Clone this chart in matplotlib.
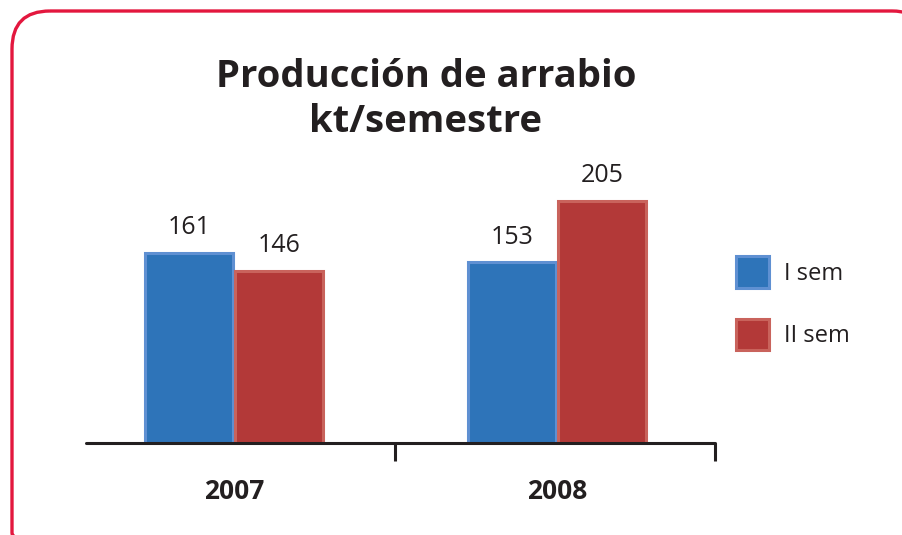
import matplotlib
matplotlib.use("Agg")
import matplotlib.pyplot as plt
from matplotlib.patches import FancyBboxPatch, Patch

plt.rcParams['font.family'] = ['Open Sans', 'DejaVu Sans']

# data
years = ['2007', '2008']
sem1 = [161, 153]
sem2 = [146, 205]
series_names = ['I sem', 'II sem']

blue = '#2E74B9'
red = '#B33938'
blue_edge = '#5F90D2'
red_edge = '#C9635C'
dark = '#231F20'

fig = plt.figure(figsize=(9.03, 5.35), dpi=100)

# background layer in pixel units for the frame, title and legend
bg = fig.add_axes([0, 0, 1, 1])
bg.set_xlim(0, 903)
bg.set_ylim(535, 0)
bg.axis('off')
frame = FancyBboxPatch((12, 11), 918, 560,
                       boxstyle="round,pad=0,rounding_size=38",
                       fill=False, edgecolor='#E3173E', linewidth=2.4)
bg.add_patch(frame)
bg.text(426, 87, 'Producción de arrabio', ha='center', va='baseline',
        fontsize=27.5, fontweight='bold', color=dark)
bg.text(426, 132, 'kt/semestre', ha='center', va='baseline',
        fontsize=27.5, fontweight='bold', color=dark)

# main chart
ax = fig.add_axes([86 / 903, 92 / 535, 629 / 903, 293 / 535])
ax.set_facecolor('none')
x = [0, 1]
w = 88 / 323
off = 45 / 323
b1 = ax.bar([i - off for i in x], sem1, w, color=blue, edgecolor=blue_edge,
            linewidth=2.2, label=series_names[0])
b2 = ax.bar([i + off for i in x], sem2, w, color=red, edgecolor=red_edge,
            linewidth=2.2, label=series_names[1])
for bars in (b1, b2):
    ax.bar_label(bars, padding=9, fontsize=18, color=dark)

ax.set_xlim(-0.458, 1.489)
ax.set_ylim(0, 248)
for s in ('top', 'left', 'right'):
    ax.spines[s].set_visible(False)
ax.spines['bottom'].set_linewidth(2.2)
ax.spines['bottom'].set_color(dark)
ax.spines['bottom'].set_capstyle('round')
ax.set_yticks([])
ax.set_xticks([0.5, 1.489])
ax.set_xticklabels([])
ax.tick_params(axis='x', which='major', direction='out', length=13,
               width=2.2, color=dark)
ax.set_xticks(x, minor=True)
ax.set_xticklabels(years, minor=True, fontsize=19, fontweight='bold', color=dark)
ax.tick_params(axis='x', which='minor', length=0, pad=25)

handles = [Patch(facecolor=blue, edgecolor=blue_edge, linewidth=2.2),
           Patch(facecolor=red, edgecolor=red_edge, linewidth=2.2)]
bg.legend(handles, series_names, loc='upper left', bbox_to_anchor=(736, 256),
          bbox_transform=bg.transData, frameon=False, fontsize=17,
          borderpad=0, borderaxespad=0,
          handlelength=1.4, handleheight=1.7, labelspacing=1.3,
          handletextpad=0.65, labelcolor=dark)

fig.savefig('out.png', dpi=100)
